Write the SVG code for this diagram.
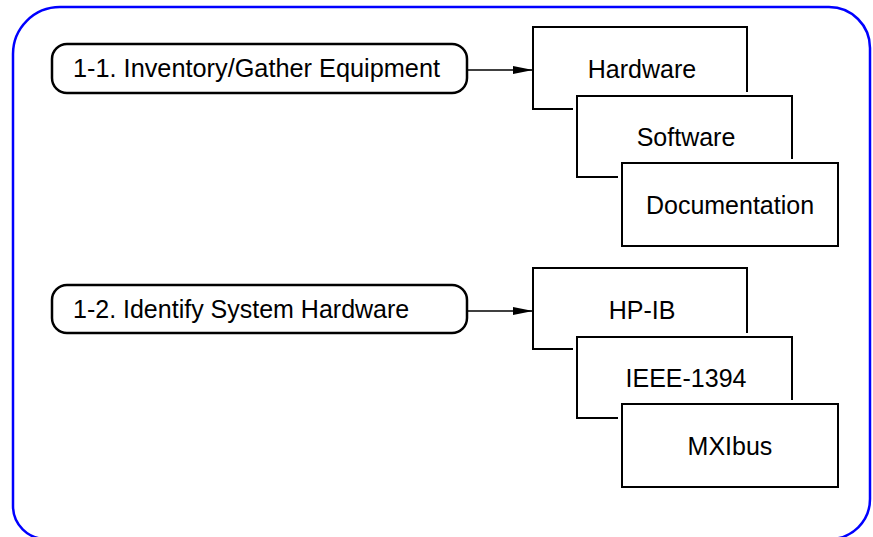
<svg xmlns="http://www.w3.org/2000/svg" width="873" height="537" viewBox="0 0 873 537">
<style>
.frame{fill:none;stroke:#0000ff;stroke-width:2.5}
.step{fill:#fff;stroke:#000;stroke-width:2.5}
.halo{fill:#fff;stroke:#fff;stroke-width:8}
.card{fill:#fff;stroke:#000;stroke-width:2}
.conn{fill:none;stroke:#000;stroke-width:1.5}
text{font-family:"Liberation Sans",Arial,sans-serif;font-size:25px;fill:#000}
.c{text-anchor:middle}
</style>
<defs>
<marker id="arr" viewBox="0 0 20 8" refX="20" refY="4" markerWidth="20" markerHeight="8" markerUnits="userSpaceOnUse" orient="auto">
<path d="M0,0 L20,4 L0,8 Z" fill="#000"/>
</marker>
</defs>
<rect width="873" height="537" fill="#fff"/>
<path class="frame" d="M60 7 H829 A41 41 0 0 1 870 48 V499 A40 40 0 0 1 830 539 H46 A33 33 0 0 1 13 506 V54 A47 47 0 0 1 60 7 Z"/>
<g id="connectors">
<line class="conn" x1="467" y1="70" x2="533" y2="70" marker-end="url(#arr)"/>
<line class="conn" x1="467" y1="311" x2="533" y2="311" marker-end="url(#arr)"/>
</g>
<g id="step1">
<rect class="step" x="52" y="44" width="415" height="49" rx="15"/>
<text x="73" y="77" textLength="367" lengthAdjust="spacingAndGlyphs">1-1. Inventory/Gather Equipment</text>
</g>
<g id="hardware">
<rect class="card" x="533" y="27" width="214" height="82"/>
<text class="c" x="642" y="78">Hardware</text>
</g>
<g id="software">
<rect class="halo" x="577" y="96" width="215" height="81"/>
<rect class="card" x="577" y="96" width="215" height="81"/>
<text class="c" x="686" y="146">Software</text>
</g>
<g id="documentation">
<rect class="halo" x="622" y="163" width="216" height="83"/>
<rect class="card" x="622" y="163" width="216" height="83"/>
<text class="c" x="730" y="214">Documentation</text>
</g>
<g id="step2">
<rect class="step" x="52" y="285" width="415" height="48" rx="15"/>
<text x="73" y="318">1-2. Identify System Hardware</text>
</g>
<g id="hpib">
<rect class="card" x="533" y="268" width="214" height="81"/>
<text class="c" x="642" y="319">HP-IB</text>
</g>
<g id="ieee1394">
<rect class="halo" x="577" y="337" width="215" height="81"/>
<rect class="card" x="577" y="337" width="215" height="81"/>
<text class="c" x="686" y="387">IEEE-1394</text>
</g>
<g id="mxibus">
<rect class="halo" x="622" y="404" width="216" height="83"/>
<rect class="card" x="622" y="404" width="216" height="83"/>
<text class="c" x="730" y="455">MXIbus</text>
</g>
</svg>
